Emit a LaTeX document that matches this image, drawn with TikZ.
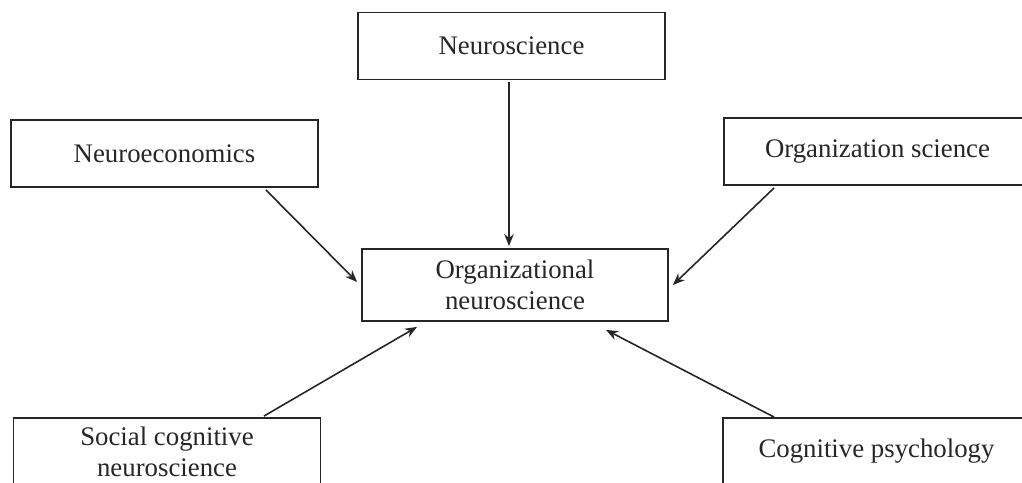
\documentclass[tikz,border=0pt]{standalone}
\usepackage{fontspec}
\setmainfont{Liberation Serif}
\usetikzlibrary{arrows.meta}
\tikzset{x=1pt, y=-1pt,
    field/.style={
        draw=black!85,
        line width=1.8pt,
        text=black!85,
        minimum width=307pt,
        minimum height=67pt,
        align=center,
        font=\fontsize{26.8}{31}\selectfont},
    feed/.style={
        draw=black!85,
        line width=1.6pt,
        -{Stealth[length=12pt,width=9.5pt]}}}

\begin{document}
\begin{tikzpicture}
        \useasboundingbox (0,0) rectangle (1022,482);
        \clip (0,0) rectangle (1022,482);

        \node[field] (neuro) at (511.5,46) {Neuroscience};
        \node[field] (econ) at (164.5,153.5) {Neuroeconomics};
        \node[field] (orgsci) at (877.5,151.5) {Organization science};
        \node[field,minimum width=306pt,minimum height=72pt] (orgneuro) at (515,285) {Organizational\\neuroscience};
        \node[field,minimum height=68pt] (social) at (167,452) {Social cognitive\\neuroscience};
        \node[field,minimum height=66pt] (cogpsy) at (876.5,451) {Cognitive psychology};

        \draw[feed] ([xshift=-2.5pt,yshift=-2pt]neuro.south) -- ([xshift=-6pt,yshift=2pt]orgneuro.north);
        \draw[feed] ([xshift=-53pt,yshift=-2pt]econ.south east) -- ([xshift=-4pt,yshift=3pt]orgneuro.west);
        \draw[feed] ([xshift=51pt,yshift=-2pt]orgsci.south west) -- ([xshift=4pt]orgneuro.east);
        \draw[feed] ([xshift=-57.5pt,yshift=1pt]social.north east) -- ([xshift=-98pt,yshift=-5pt]orgneuro.south);
        \draw[feed] ([xshift=52pt]cogpsy.north west) -- ([xshift=91pt,yshift=-8pt]orgneuro.south);
    \end{tikzpicture}
\end{document}
